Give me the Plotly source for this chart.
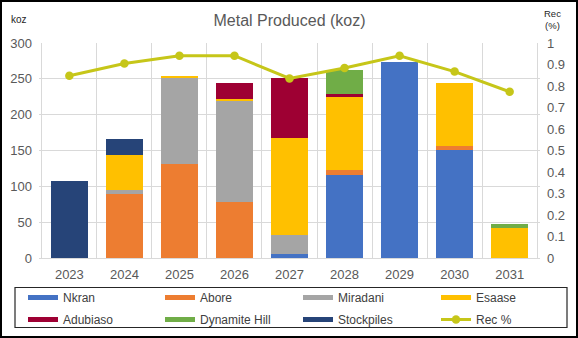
import plotly.graph_objects as go

years = ["2023", "2024", "2025", "2026", "2027", "2028", "2029", "2030", "2031"]
nkran = [0, 0, 0, 0, 6, 116, 274, 151, 0]
abore = [0, 90, 131, 78, 0, 7, 0, 5.5, 0]
miradani = [0, 4.5, 121, 141.5, 26, 0, 0, 0, 0]
esaase = [0, 49, 1, 2, 135, 101, 0, 88, 42]
adubiaso = [0, 0, 0, 23, 84, 5, 0, 0, 0]
dynamite = [0, 0, 0, 0, 0, 34, 0, 0, 6]
stockpiles = [107, 23, 0, 0, 0, 0, 0, 0, 0]
rec = [0.848, 0.905, 0.941, 0.941, 0.835, 0.884, 0.941, 0.867, 0.773]

series = [
    ("Nkran", nkran, "#4472C4"),
    ("Abore", abore, "#ED7D31"),
    ("Miradani", miradani, "#A5A5A5"),
    ("Esaase", esaase, "#FFC000"),
    ("Adubiaso", adubiaso, "#9E0033"),
    ("Dynamite Hill", dynamite, "#70AD47"),
    ("Stockpiles", stockpiles, "#264478"),
]
rec_color = "#C6C619"
FONT = "Liberation Sans, Arial, sans-serif"

# legend column for each entry (4 columns, 2 rows, row-major as in the reference)
legend_names = ["legend", "legend2", "legend3", "legend4"]

fig = go.Figure()
for name, vals, col in series:
    fig.add_trace(go.Bar(x=years, y=vals, name=name, marker=dict(color=col, line=dict(width=0)),
                         showlegend=False, yaxis="y"))
# legend swatches
for i, (name, vals, col) in enumerate(series):
    fig.add_trace(go.Scatter(x=[None], y=[None], mode="lines", name=name,
                             line=dict(color=col, width=5), showlegend=True, yaxis="y",
                             legend=legend_names[i % 4], legendgroup=f"g{i}"))
fig.add_trace(go.Scatter(x=years, y=rec, name="Rec %", mode="lines+markers", yaxis="y2",
                         line=dict(color=rec_color, width=3),
                         marker=dict(color=rec_color, size=8.5),
                         legend=legend_names[3], legendgroup="g7"))

W, H = 578, 338
L, R, T, B = 39, 38, 43, 80
pw = W - L - R
ph = H - T - B

def px(x):
    return (x - L) / pw

def py(y):
    return (H - B - y) / ph

text_x = [66, 203, 341, 479]
legends = {}
for name, tx in zip(legend_names, text_x):
    legends[name] = dict(orientation="v", x=px(tx - 43), xanchor="left", y=py(283), yanchor="top",
                         font=dict(size=12, color="#404040", family=FONT),
                         bgcolor="rgba(0,0,0,0)", traceorder="grouped", tracegroupgap=3)

fig.update_layout(
    width=W, height=H,
    margin=dict(l=L, r=R, t=T, b=B, autoexpand=False),
    paper_bgcolor="white", plot_bgcolor="white",
    barmode="stack", bargap=0.34,
    font=dict(family=FONT, color="#595959", size=13),
    title=dict(text="Metal Produced (koz)", x=0.5, xref="paper", xanchor="center",
               y=1 - 20 / H, yanchor="middle",
               font=dict(family=FONT, size=16, color="#595959")),
    xaxis=dict(type="category", tickson="boundaries", showgrid=True, gridcolor="#D9D9D9",
               gridwidth=1, ticks="", showline=True, linecolor="#D9D9D9",
               tickfont=dict(size=13, color="#595959"), ticklabelstandoff=4),
    yaxis=dict(range=[0, 300], dtick=50, showgrid=True, gridcolor="#D9D9D9", zeroline=False,
               ticks="", tickfont=dict(size=13, color="#595959"), ticklabelstandoff=6),
    yaxis2=dict(range=[0, 1], dtick=0.1, overlaying="y", side="right", showgrid=False,
                zeroline=False, ticks="", tickformat="~g",
                tickfont=dict(size=13, color="#595959"), ticklabelstandoff=6),
    shapes=[
        dict(type="rect", xref="paper", yref="paper", x0=px(1), x1=px(577), y0=py(337), y1=py(1),
             line=dict(color="black", width=2), fillcolor="rgba(0,0,0,0)", layer="above"),
        dict(type="rect", xref="paper", yref="paper", x0=px(15), x1=px(567), y0=py(327.5), y1=py(287.5),
             line=dict(color="#262626", width=1.2), fillcolor="rgba(0,0,0,0)", layer="above"),
    ],
    annotations=[
        dict(text="koz", x=px(19), y=py(20), xref="paper", yref="paper", showarrow=False,
             font=dict(size=10, color="#262626", family=FONT), xanchor="center", yanchor="middle"),
        dict(text="Rec<br>(%)", x=px(552), y=py(20), xref="paper", yref="paper", showarrow=False,
             font=dict(size=9.5, color="#262626", family=FONT), xanchor="center", yanchor="middle"),
    ],
    **legends,
)

fig.write_html("out.html")
